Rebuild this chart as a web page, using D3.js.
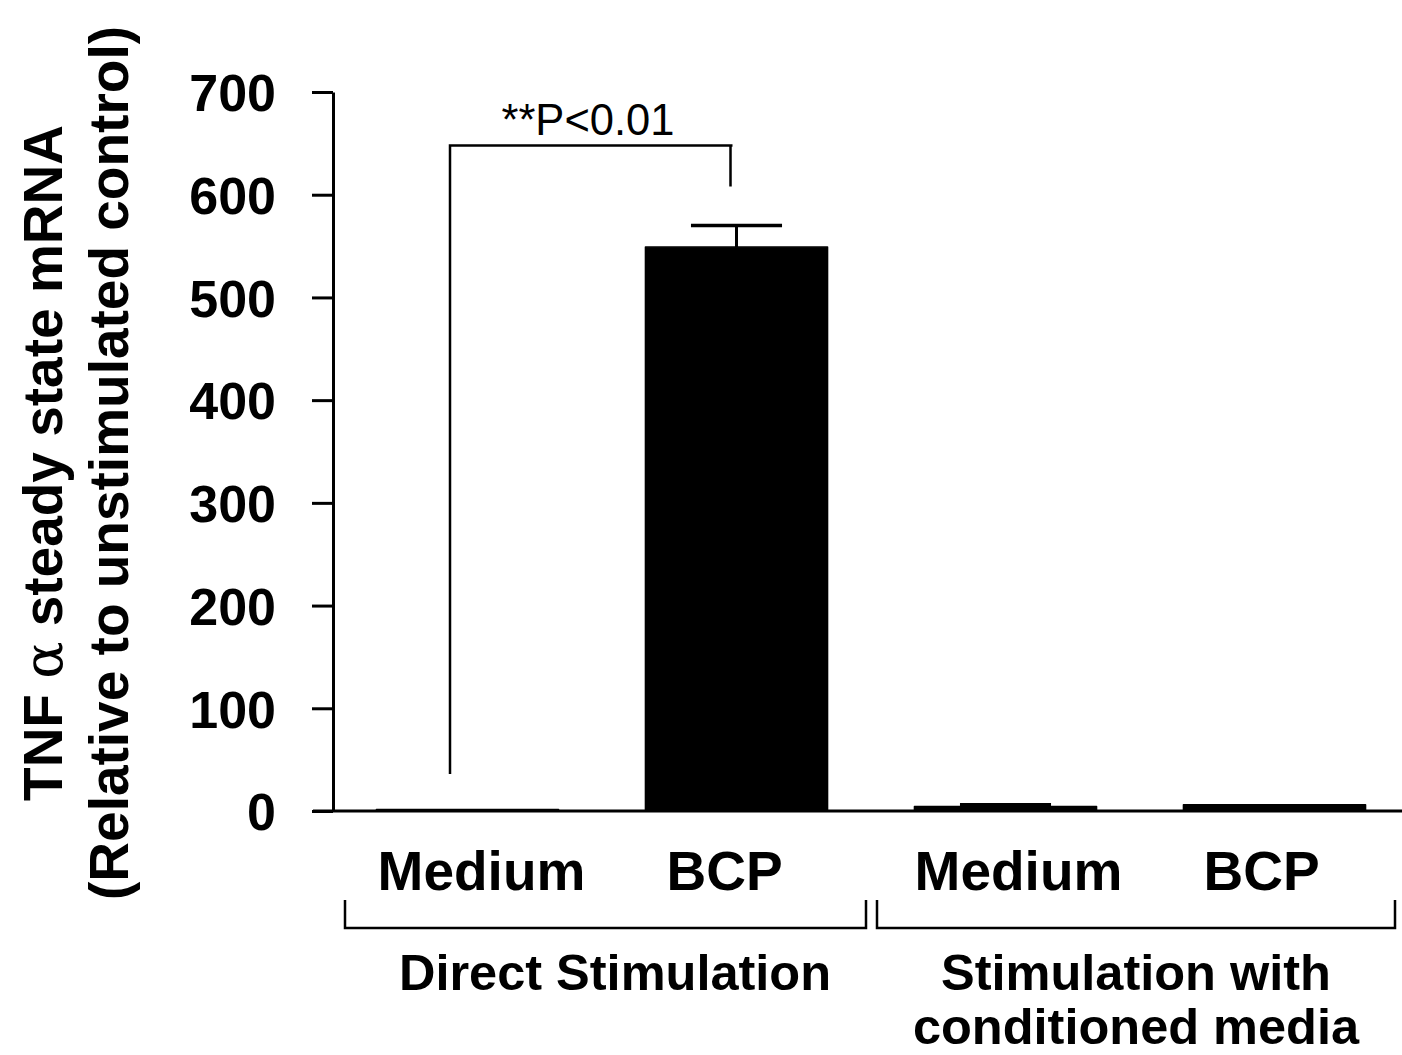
<!DOCTYPE html>
<html>
<head>
<meta charset="utf-8">
<script src="https://cdn.jsdelivr.net/npm/d3@7"></script>
<style>
  body { margin: 0; background: #fff; }
  text { font-family: "Liberation Sans", Arial, sans-serif; }
</style>
</head>
<body>
<div id="chart"></div>
<script>
'use strict'

// data
const categories = ["dMedium", "dBCP", "cMedium", "cBCP"];
const barLabels = ["Medium", "BCP", "Medium", "BCP"];
const values = [1.5, 549, 4.5, 6];
const errors = [0, 21, 1.5, 0];
const yTicks = [0, 100, 200, 300, 400, 500, 600, 700];
const groups = ["Direct Stimulation", "Stimulation with|conditioned media"];

const width = 1402, height = 1055;

const svg = d3.select('#chart').append('svg')
  .attr('width', width)
  .attr('height', height);

////////////// Scales //////////////

const x = d3.scaleBand()
  .domain(categories)
  .range([333, 1409])
  .paddingInner(0.323)
  .paddingOuter(0.1615);

const y = d3.scaleLinear()
  .domain([0, 700])
  .range([811, 92]);

////////////// Axes //////////////

const yAxis = svg.append('g')
  .attr('transform', `translate(${x.range()[0]},0)`)
  .call(d3.axisLeft(y).tickValues(yTicks).tickSize(21).tickSizeOuter(0).tickPadding(36));

yAxis.select('.domain').attr('stroke', '#000').attr('stroke-width', 3);
yAxis.selectAll('.tick line').attr('stroke', '#000').attr('stroke-width', 3);
yAxis.selectAll('.tick text')
  .attr('font-size', 52)
  .attr('font-weight', 'bold')
  .attr('fill', '#000')
  .attr('dy', '0.36em');

// x axis baseline
svg.append('line')
  .attr('x1', 313).attr('x2', width)
  .attr('y1', y(0)).attr('y2', y(0))
  .attr('stroke', '#000').attr('stroke-width', 3);

////////////// Bars //////////////

svg.selectAll('.bar')
  .data(categories)
  .join('rect')
  .attr('class', 'bar')
  .attr('x', d => x(d))
  .attr('width', x.bandwidth())
  .attr('y', (d, i) => y(values[i]))
  .attr('height', (d, i) => y(0) - y(values[i]))
  .attr('fill', '#000')
  .attr('stroke', '#000')
  .attr('stroke-width', 1.5)
  .attr('stroke-linejoin', 'round');

// error bars
const capW = x.bandwidth() * 0.5;
categories.forEach((c, i) => {
  if (!errors[i]) return;
  const cx = x(c) + x.bandwidth() / 2;
  svg.append('line')
    .attr('x1', cx).attr('x2', cx)
    .attr('y1', y(values[i])).attr('y2', y(values[i] + errors[i]))
    .attr('stroke', '#000').attr('stroke-width', 3);
  svg.append('line')
    .attr('x1', cx - capW / 2).attr('x2', cx + capW / 2)
    .attr('y1', y(values[i] + errors[i])).attr('y2', y(values[i] + errors[i]))
    .attr('stroke', '#000').attr('stroke-width', 3.5);
});

////////////// Significance bracket //////////////

const sigY = y(648);
const leftX = 450;
const rightX = x('dBCP') + x.bandwidth() / 2 - 6;
svg.append('path')
  .attr('d', `M${leftX},${y(36)} V${sigY} H${rightX + 2} M${rightX},${sigY} V${y(608)}`)
  .attr('fill', 'none')
  .attr('stroke', '#000')
  .attr('stroke-width', 2.5);

svg.append('text')
  .attr('x', 588)
  .attr('y', 135)
  .attr('text-anchor', 'middle')
  .attr('font-size', 43.5)
  .attr('fill', '#000')
  .text('**P<0.01');

////////////// Category labels //////////////

const labelShift = [14, -12, 13, -13];
svg.selectAll('.cat-label')
  .data(categories)
  .join('text')
  .attr('class', 'cat-label')
  .attr('x', (d, i) => x(d) + x.bandwidth() / 2 + labelShift[i])
  .attr('y', 890)
  .attr('text-anchor', 'middle')
  .attr('font-size', 55)
  .attr('font-weight', 'bold')
  .attr('fill', '#000')
  .text((d, i) => barLabels[i]);

////////////// Group brackets //////////////

const bracketEnds = [[345, 866], [877, 1395]];
const groupCenters = [615, 1136];
groups.forEach((g, gi) => {
  const [x0, x1] = bracketEnds[gi];
  svg.append('path')
    .attr('d', `M${x0},900 V928 H${x1} V900`)
    .attr('fill', 'none')
    .attr('stroke', '#000')
    .attr('stroke-width', 2.5);

  g.split('|').forEach((ln, li) => {
    svg.append('text')
      .attr('x', groupCenters[gi])
      .attr('y', 990 + li * 54)
      .attr('text-anchor', 'middle')
      .attr('font-size', 50.5)
      .attr('font-weight', 'bold')
      .attr('fill', '#000')
      .text(ln);
  });
});

////////////// Y axis title //////////////

const title = svg.append('text')
  .attr('transform', 'translate(0,463) rotate(-90)')
  .attr('text-anchor', 'middle')
  .attr('font-size', 55)
  .attr('font-weight', 'bold')
  .attr('fill', '#000');

const t1 = title.append('tspan').attr('x', 0).attr('y', 62);
t1.append('tspan').text('TNF ');
t1.append('tspan').attr('font-weight', 'normal').attr('font-family', '"DejaVu Serif", serif').text('α');
t1.append('tspan').text(' steady state mRNA');

title.append('tspan').attr('x', 0).attr('y', 128)
  .text('(Relative to unstimulated control)');
</script>
</body>
</html>
